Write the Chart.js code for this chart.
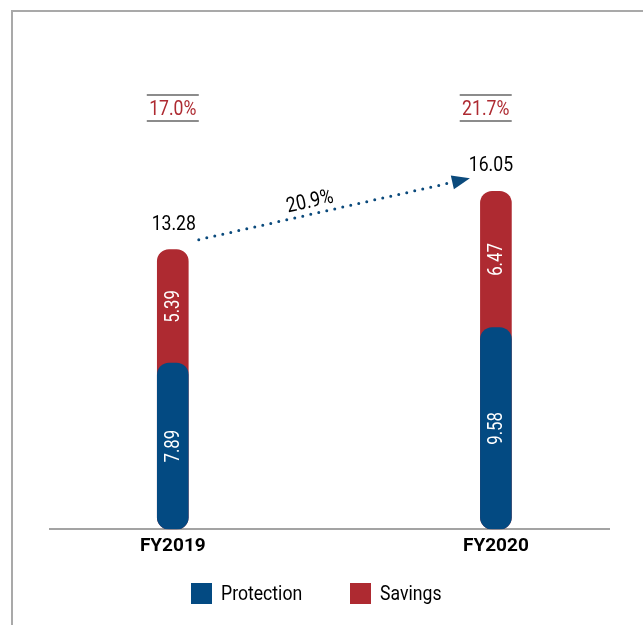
<!DOCTYPE html>
<html>
<head>
<meta charset="utf-8">
<script src="https://cdn.jsdelivr.net/npm/chart.js@4.4.1/dist/chart.umd.min.js"></script>
<style>
  html, body { margin: 0; padding: 0; background: #fff; overflow: hidden; }
  #wrap { position: relative; width: 643px; height: 625px; }
  #frame { position: absolute; left: 11px; top: 10px; width: 700px; height: 700px;
           border-left: 2px solid #a9a9a9; border-top: 2px solid #a9a9a9; }
  #chart { position: absolute; left: 0; top: 0; }
  #legend { position: absolute; left: 0; top: 581px; width: 632px; display: flex;
            justify-content: center; gap: 48px; font: 21px Roboto, sans-serif; color: #000; }
  #legend .item { display: flex; align-items: center; }
  #legend .box { width: 21px; height: 21px; margin-right: 9px; }
  #legend .txt { display: inline-block; white-space: nowrap; transform: scaleX(0.84); transform-origin: 0 50%; }
</style>
</head>
<body>
<div id="wrap">
  <div id="frame"></div>
  <canvas id="chart" width="643" height="625"></canvas>
  <div id="legend"></div>
</div>
<script>
const FONT = 'Roboto, sans-serif';
const NARROW = 0.84; // squeeze Roboto towards the condensed face of the original
const BLUE = '#034a82';
const RED = '#ae2a31';

// values
const categories = ['FY2019', 'FY2020'];
const protection = [7.89, 9.58];
const savings = [5.39, 6.47];
const totals = [13.28, 16.05];
const headlineRates = ['17.0%', '21.7%'];
const growthLabel = '20.9%';

function narrowText(ctx, text, x, y, size, color, angle) {
  ctx.save();
  ctx.translate(x, y);
  if (angle) ctx.rotate(angle);
  ctx.scale(NARROW, 1);
  ctx.font = size + 'px ' + FONT;
  ctx.fillStyle = color;
  ctx.fillText(text, 0, 0);
  ctx.restore();
}

// labels above the bars and arrow, drawn on top of the bars
const annotations = {
  id: 'annotations',
  afterDatasetsDraw(chart) {
    const { ctx, chartArea, scales: { x, y } } = chart;
    ctx.save();
    ctx.textAlign = 'center';

    categories.forEach((cat, i) => {
      const cx = x.getPixelForValue(i);
      const y0 = y.getPixelForValue(0);
      const yProt = y.getPixelForValue(protection[i]);
      const yTot = y.getPixelForValue(totals[i]);
      const nudge = i === 0 ? 0 : -6;

      // values inside the bars, rotated
      ctx.textBaseline = 'middle';
      narrowText(ctx, protection[i].toFixed(2), cx + 1.5, (y0 + yProt) / 2, 20, '#fff', -Math.PI / 2);
      narrowText(ctx, savings[i].toFixed(2), cx + 1.5, (yProt + yTot) / 2, 20, '#fff', -Math.PI / 2);

      // total above the bar
      ctx.textBaseline = 'alphabetic';
      narrowText(ctx, totals[i].toFixed(2), cx + nudge + 1, yTot - 20, 21, '#000');

      // boxed rate at the top
      const rx = cx + nudge * 1.7;
      narrowText(ctx, headlineRates[i], rx, chartArea.top + 91, 21, RED);
      ctx.strokeStyle = '#8c8c8c';
      ctx.lineWidth = 2;
      ctx.beginPath();
      ctx.moveTo(rx - 26, chartArea.top + 71); ctx.lineTo(rx + 26, chartArea.top + 71);
      ctx.moveTo(rx - 26, chartArea.top + 97); ctx.lineTo(rx + 26, chartArea.top + 97);
      ctx.stroke();
    });

    // dotted growth arrow
    const sx = x.getPixelForValue(0) + 26, sy = y.getPixelForValue(totals[0]) - 10;
    const ex = x.getPixelForValue(1) - 26, ey = y.getPixelForValue(totals[1]) - 13;
    const ang = Math.atan2(ey - sy, ex - sx);
    const headLen = 18, headW = 7;
    const bx = ex - headLen * Math.cos(ang), by = ey - headLen * Math.sin(ang);
    ctx.strokeStyle = '#0b4a7c';
    ctx.fillStyle = '#0b4a7c';
    ctx.lineWidth = 3;
    ctx.lineCap = 'round';
    ctx.setLineDash([0, 8.2]);
    ctx.beginPath();
    ctx.moveTo(sx, sy);
    ctx.lineTo(bx, by);
    ctx.stroke();
    ctx.setLineDash([]);
    ctx.beginPath();
    ctx.moveTo(ex, ey);
    ctx.lineTo(bx + headW * Math.sin(ang), by - headW * Math.cos(ang));
    ctx.lineTo(bx - headW * Math.sin(ang), by + headW * Math.cos(ang));
    ctx.closePath();
    ctx.fill();

    const mx = sx + 0.42 * (ex - sx) + 12 * Math.sin(ang);
    const my = sy + 0.42 * (ey - sy) - 12 * Math.cos(ang);
    ctx.textBaseline = 'middle';
    narrowText(ctx, growthLabel, mx, my, 21, '#000', ang);

    ctx.restore();
  }
};

const chart = new Chart(document.getElementById('chart'), {
  type: 'bar',
  data: {
    datasets: [
      {
        label: 'Protection',
        data: protection.map((v, i) => ({ x: i, y: v })),
        backgroundColor: BLUE,
        borderRadius: 12,
        borderSkipped: false,
        barThickness: 31,
        grouped: false,
        order: 1,
      },
      {
        // drawn from the axis to the total, so the rounded blue top sits over it
        label: 'Savings',
        data: totals.map((v, i) => ({ x: i, y: [0, v] })),
        backgroundColor: RED,
        borderRadius: 12,
        borderSkipped: false,
        barThickness: 31,
        grouped: false,
        order: 2,
      },
    ],
  },
  options: {
    responsive: false,
    animation: false,
    layout: { padding: { left: 23, right: 34, top: 24, bottom: 61 } },
    scales: {
      x: {
        type: 'linear',
        min: -0.38,
        max: 1.35,
        offset: false,
        grid: { display: false, drawTicks: false },
        border: { display: true, color: '#a3a3a3', width: 2 },
        afterBuildTicks: (axis) => { axis.ticks = categories.map((c, i) => ({ value: i })); },
        ticks: {
          callback: (v) => categories[v],
          color: '#000',
          padding: 6,
          maxRotation: 0,
          autoSkip: false,
          font: { family: FONT, size: 19, weight: 'bold' },
        },
      },
      y: {
        min: 0,
        max: 24,
        grid: { display: false },
        border: { display: false },
        ticks: { display: false },
        afterFit: (axis) => { axis.width = 27; },
      },
    },
    plugins: {
      legend: { display: false },
      tooltip: { enabled: false },
    },
  },
  plugins: [annotations],
});

// legend built from the chart's own datasets, in legend order
const legendEl = document.getElementById('legend');
chart.data.datasets.slice().sort((a, b) => a.order - b.order).forEach((ds) => {
  const item = document.createElement('div');
  item.className = 'item';
  item.innerHTML = `<span class="box" style="background:${ds.backgroundColor}"></span><span class="txt">${ds.label}</span>`;
  legendEl.appendChild(item);
  const txt = item.querySelector('.txt');
  txt.style.width = (txt.offsetWidth * NARROW) + 'px';
});
</script>
</body>
</html>
